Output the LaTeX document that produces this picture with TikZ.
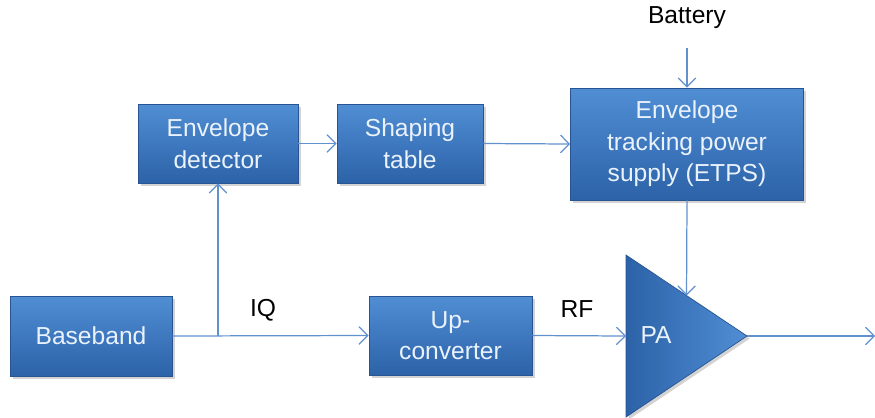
\documentclass[tikz,border=0pt]{standalone}
\usepackage{fontspec}
\setmainfont{Liberation Sans}
\usepackage{xcolor}
\usetikzlibrary{shapes.geometric, arrows.meta, positioning, shadows}

\definecolor{boxtop}{RGB}{80,142,212}
\definecolor{boxbot}{RGB}{44,98,168}
\definecolor{boxedge}{RGB}{40,84,145}
\definecolor{wire}{RGB}{98,146,206}
\definecolor{boxtext}{RGB}{234,242,252}

\tikzset{
  block/.style={draw=boxedge, rectangle, top color=boxtop, bottom color=boxbot,
    text=boxtext, align=center, font=\fontsize{14}{18}\selectfont,
    minimum height=1.58cm,
    drop shadow={opacity=0.35, shadow xshift=1.5pt, shadow yshift=-1.5pt}},
  sig/.style={draw=wire, line width=0.7pt, -{Straight Barb[length=5pt, width=10pt]}},
  lbl/.style={font=\fontsize{14}{18}\selectfont, text=black}
}

\begin{document}
\begin{tikzpicture}[x=0.02cm, y=-0.02cm]
    \useasboundingbox (0,0) rectangle (875,417);
    % blocks
    \node[block, minimum width=3.24cm, minimum height=1.6cm] (base) at (91,336) {Baseband};
    \node[block, minimum width=3.2cm] (envdet) at (218,143.5) {Envelope\\detector};
    \node[block, minimum width=2.92cm] (shaping) at (410,143.5) {Shaping\\table};
    \node[block, minimum width=4.66cm, minimum height=2.24cm] (etps) at (687,144) {Envelope\\tracking power\\supply (ETPS)};
    \node[block, minimum width=3.26cm] (upconv) at (450.5,335.5) {Up-\\converter};
    \node[isosceles triangle, isosceles triangle stretches, draw=boxedge,
          left color=boxbot, right color=boxtop, inner sep=0pt, outer sep=0pt,
          minimum width=3.24cm, minimum height=2.42cm, anchor=apex,
          drop shadow={opacity=0.35, shadow xshift=1.5pt, shadow yshift=-1.5pt}] (pa) at (747,336) {};
    \node[text=boxtext, font=\fontsize{14}{18}\selectfont] (palbl) at (656,335) {PA};
    % labels
    \node[lbl] (batt) at (687,18) {Battery};
    \node[lbl] (iq) at (263,310) {IQ};
    \node[lbl] (rf) at (577,309) {RF};
    \coordinate (out) at (875,336);
    % connections
    \draw[sig] (base.east) -- (upconv.west);
    \draw[sig] (envdet.south |- base.east) -- (envdet.south);
    \draw[sig] (envdet.east) -- (shaping.west);
    \draw[sig] (shaping.east) -- (etps.west);
    \draw[sig, shorten <=7pt] (batt.south) -- (etps.north);
    \draw[sig] (etps.south) -- (pa.left side);
    \draw[sig] (upconv.east) -- (pa.lower side);
    \draw[sig] (pa.apex) -- (out);
\end{tikzpicture}
\end{document}
